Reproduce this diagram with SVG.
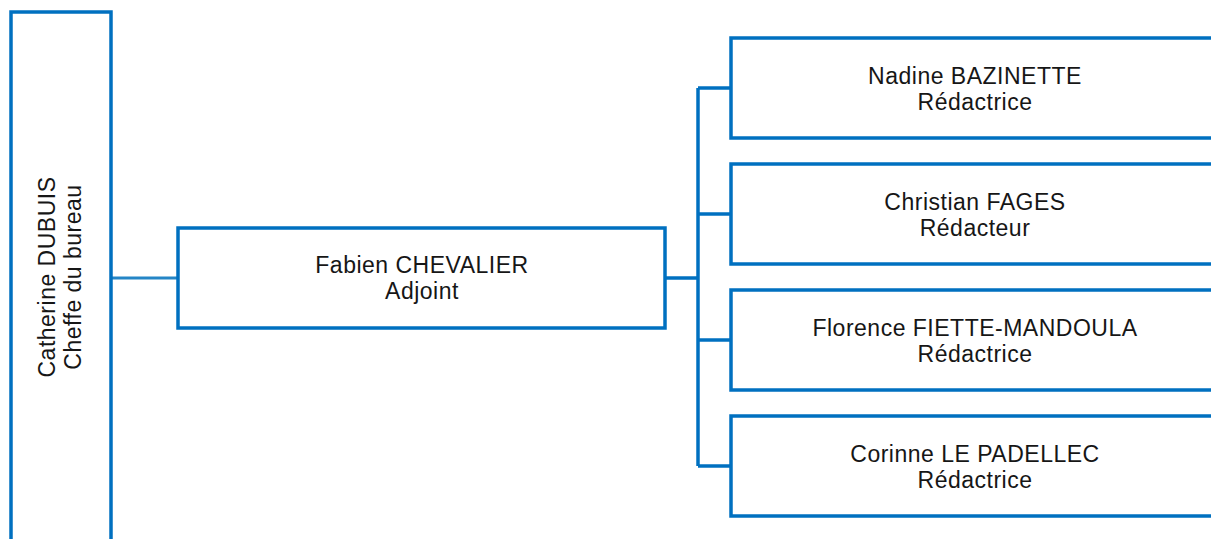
<svg xmlns="http://www.w3.org/2000/svg" width="1211" height="539" viewBox="0 0 1211 539">
<style>
.box{fill:#ffffff;stroke:#0070C0;stroke-width:3.5}
.lbl{font-family:"Liberation Sans",Arial,sans-serif;font-size:23px;letter-spacing:0.5px;fill:#161616;text-anchor:middle}
.conn{fill:none;stroke:#0070C0;stroke-width:3.5}
.conn2{fill:none;stroke:#2585C6;stroke-width:3}
</style>
<rect width="1211" height="539" fill="#ffffff"/>
<g id="connectors">
<line class="conn2" x1="111" y1="278" x2="178" y2="278"/>
<line class="conn" x1="665" y1="278" x2="698" y2="278"/>
<line class="conn" x1="698" y1="88" x2="698" y2="466"/>
<line class="conn" x1="698" y1="88" x2="731" y2="88"/>
<line class="conn" x1="698" y1="214" x2="731" y2="214"/>
<line class="conn" x1="698" y1="340" x2="731" y2="340"/>
<line class="conn" x1="698" y1="466" x2="731" y2="466"/>
</g>
<g id="node-dubuis">
<rect class="box" x="11" y="12" width="100" height="600"/>
<text class="lbl" transform="translate(55,277) rotate(-90)">Catherine DUBUIS</text>
<text class="lbl" transform="translate(81,277) rotate(-90)">Cheffe du bureau</text>
</g>
<g id="node-chevalier">
<rect class="box" x="178" y="228" width="487" height="100"/>
<text class="lbl" x="422" y="273">Fabien CHEVALIER</text>
<text class="lbl" x="422" y="299">Adjoint</text>
</g>
<g id="node-bazinette">
<rect class="box" x="731" y="38" width="488" height="100"/>
<text class="lbl" x="975" y="84">Nadine BAZINETTE</text>
<text class="lbl" x="975" y="110">Rédactrice</text>
</g>
<g id="node-fages">
<rect class="box" x="731" y="164" width="488" height="100"/>
<text class="lbl" x="975" y="210">Christian FAGES</text>
<text class="lbl" x="975" y="236">Rédacteur</text>
</g>
<g id="node-fiette">
<rect class="box" x="731" y="290" width="488" height="100"/>
<text class="lbl" x="975" y="336">Florence FIETTE-MANDOULA</text>
<text class="lbl" x="975" y="362">Rédactrice</text>
</g>
<g id="node-lepadellec">
<rect class="box" x="731" y="416" width="488" height="100"/>
<text class="lbl" x="975" y="462">Corinne LE PADELLEC</text>
<text class="lbl" x="975" y="488">Rédactrice</text>
</g>
</svg>
